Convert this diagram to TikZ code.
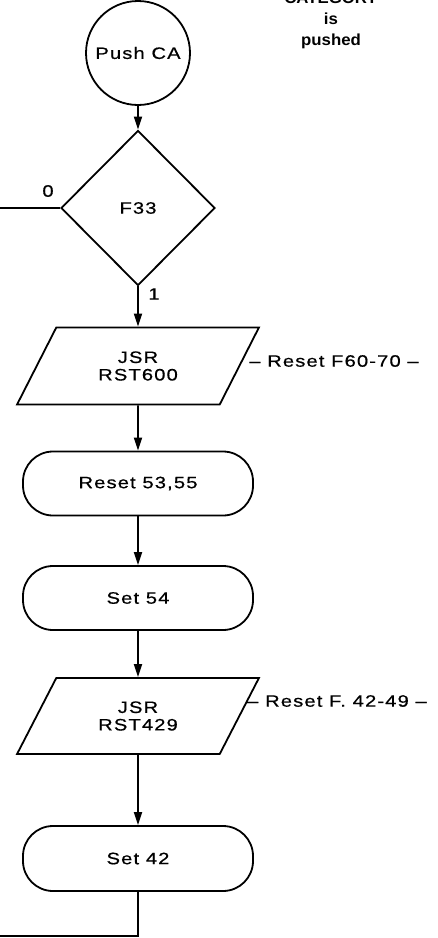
\documentclass[tikz,border=0pt]{standalone}
\usepackage{fontspec}
\setmainfont{Liberation Sans}[FakeStretch=1.22, FakeBold=0.6, LetterSpace=7]
\newfontfamily\titlefont{Liberation Sans}[FakeStretch=1.05]
\usetikzlibrary{arrows.meta,shapes.geometric,positioning}

\begin{document}
\begin{tikzpicture}[
    x=1pt, y=-1pt,
    >={Triangle[length=13pt,width=8pt]},
    line width=1.8pt,
    every node/.style={font=\fontsize{16.5}{17.5}\selectfont},
    startnode/.style={draw, circle, minimum size=104pt, inner sep=0pt},
    decision/.style={draw, diamond, aspect=1, inner sep=0pt,
        minimum width=154pt, minimum height=155pt},
    subcall/.style={draw, trapezium, trapezium left angle=60,
        trapezium right angle=120, trapezium stretches=true,
        minimum width=242pt, minimum height=77pt, align=center},
    action/.style={draw, rectangle, rounded corners=30pt,
        minimum width=230pt, minimum height=64pt},
    note/.style={font=\fontsize{16.5}{17.5}\selectfont},
    heading/.style={font=\titlefont\bfseries\fontsize{16}{21}\selectfont,
        align=center, inner sep=0pt},
    flowedge/.style={->}
]
\useasboundingbox (0,0) rectangle (438,938);

\node[heading, anchor=north] (title) at (331,-9) {CATEGORY\\is\\pushed};

\node[startnode] (pushca) at (138,53) {Push CA};
\node[decision] (f33) at (138,208) {F33};
\node[subcall] (jsr1) at (138,366) {JSR\\RST600};
\node[action] (reset) at (138,483.5) {Reset 53,55};
\node[action] (set54) at (138,598) {Set 54};
\node[subcall, minimum height=76pt] (jsr2) at (138,716) {JSR\\RST429};
\node[action, minimum height=65pt] (set42) at (138,858.5) {Set 42};

\node[note] (jsr1note) at (334,361) {-- Reset F60-70 --};
\node[note] (jsr2note) at (337,701) {-- Reset F. 42-49 --};
\node[note] (no) at (48,191) {0};
\node[note] (yes) at (154,294) {1};

\coordinate (leftout) at (0,208);
\coordinate (bottomout) at (0,936);

\draw[flowedge] (pushca) -- (f33);
\draw (f33.west) -- (leftout);
\draw[flowedge] (f33) -- (jsr1);
\draw[flowedge] (jsr1) -- (reset);
\draw[flowedge] (reset) -- (set54);
\draw[flowedge] (set54) -- (jsr2);
\draw[flowedge] (jsr2) -- (set42);
\draw (set42) |- (bottomout);
\end{tikzpicture}
\end{document}
